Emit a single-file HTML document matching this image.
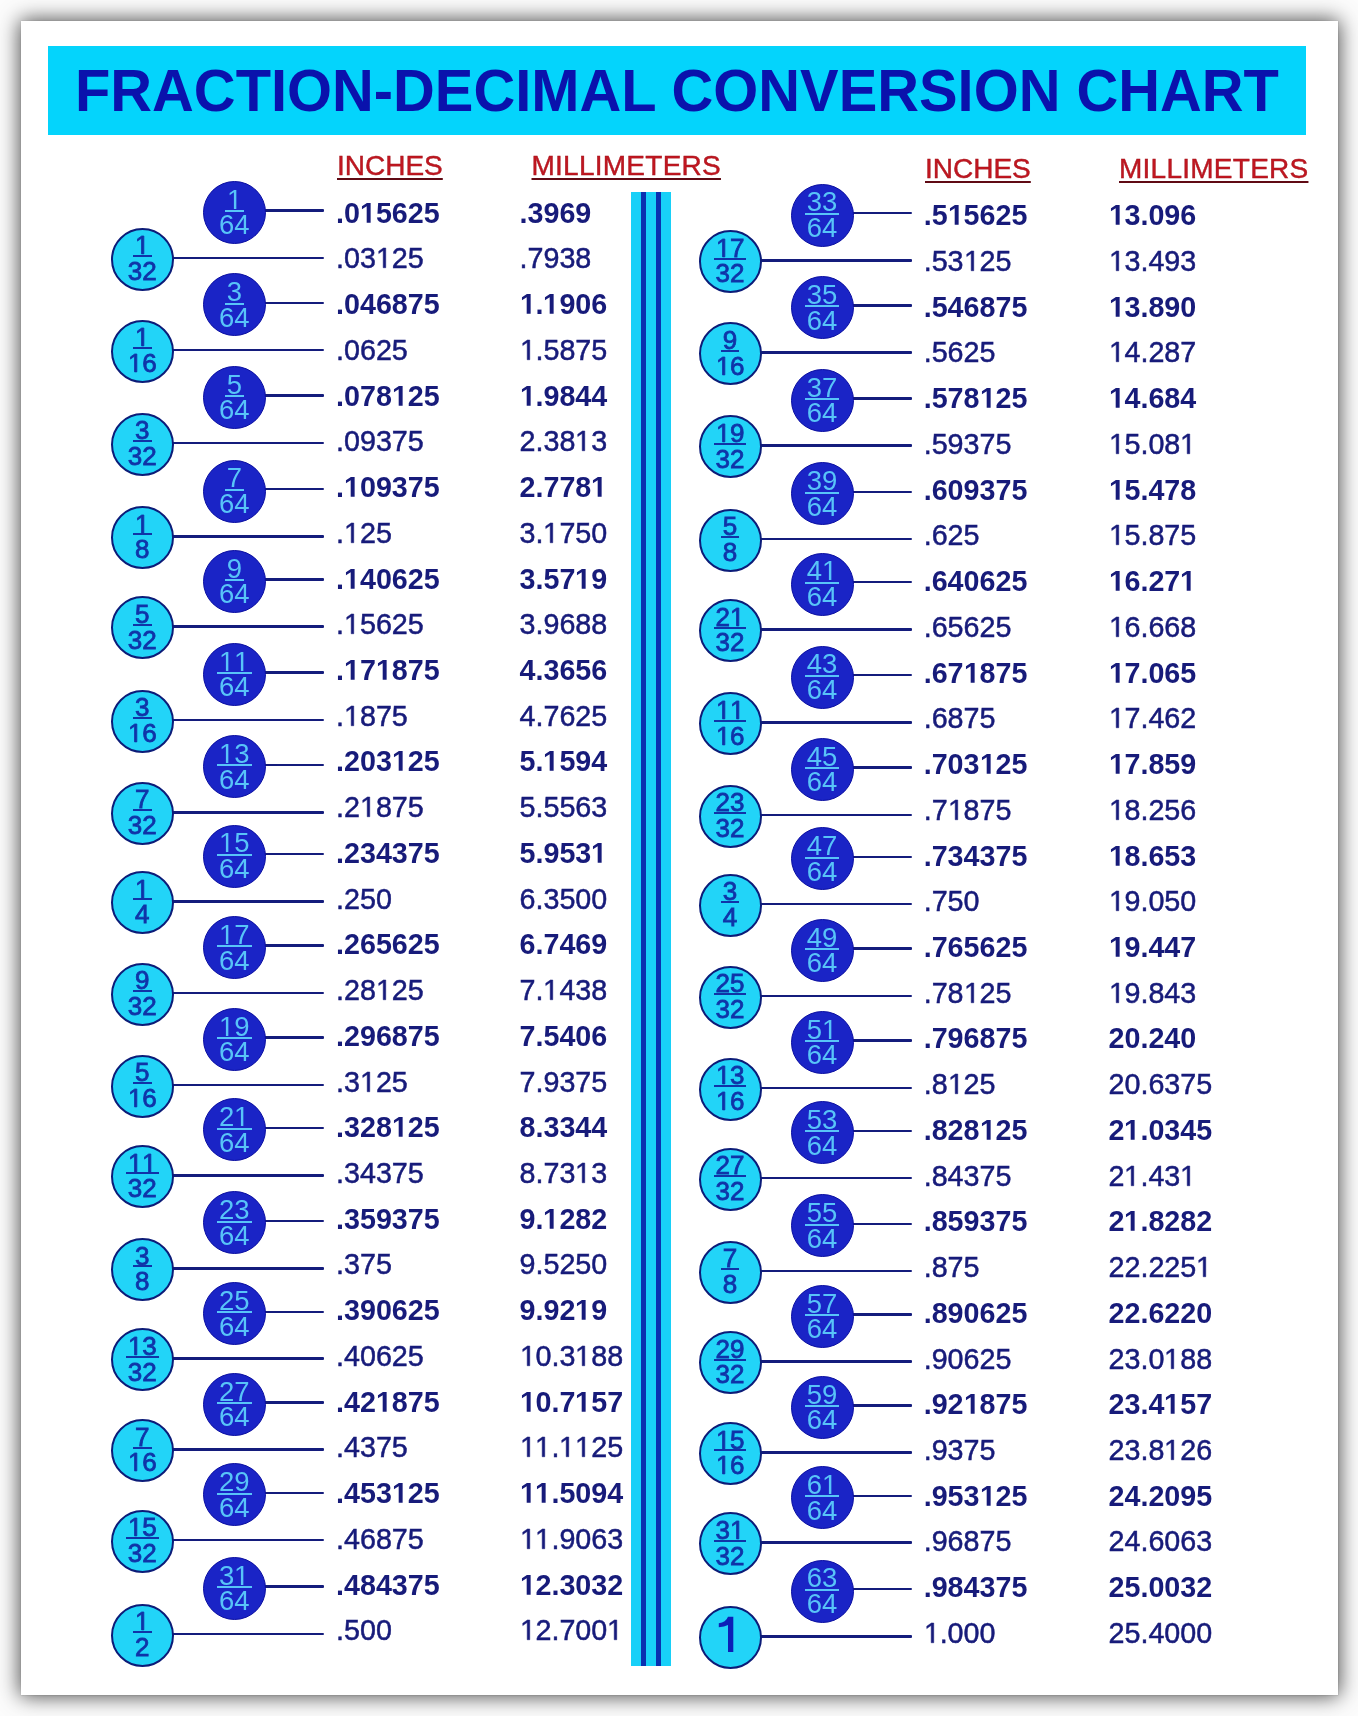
<!DOCTYPE html>
<html><head><meta charset="utf-8"><style>
*{margin:0;padding:0;box-sizing:border-box}
html,body{width:1358px;height:1716px;overflow:hidden;background:#fcfcfc;font-family:"Liberation Sans",sans-serif}
#card{position:absolute;left:20.5px;top:20.5px;width:1317px;height:1674px;background:#fff;box-shadow:0 0 1.5px .5px rgba(0,0,0,.2),0 0 20px 1px rgba(0,0,0,.72)}
#wrap{position:absolute;left:0;top:0;width:1358px;height:1716px;filter:blur(.45px)}
#ban{position:absolute;left:48px;top:46px;width:1258px;height:89px;background:#04d4fc}
#title{position:absolute;left:26.7px;top:15px;transform:scaleX(.964);transform-origin:0 0;white-space:nowrap;font-weight:bold;font-size:60px;color:#0a12ac;line-height:1}
.h{position:absolute;white-space:nowrap;font-size:28px;color:#c01620;line-height:1;text-decoration:underline;text-decoration-color:#600a14;text-decoration-thickness:2px;text-underline-offset:3px;-webkit-text-stroke:.4px #a01018}
.ln{position:absolute;height:2.6px;background:#141c7c;border-radius:1px}
.c{position:absolute;width:63px;height:63px;border-radius:50%}
.cd{background:#1a24c6;border:1.5px solid #0a0ea0}
.cl{background:#22d4f8;border:2.7px solid #0c1c78}
.bar{position:absolute;height:2px}
.fdb{background:#58c4f8}
.flb{background:#1034a8}
.fr{position:absolute;width:60px;text-align:center;line-height:1;white-space:nowrap}
.fd{color:#58c4f8}
.fl{color:#1034a8;-webkit-text-stroke:.8px #1034a8}
.one{position:absolute;width:60px;text-align:center;font-size:48px;line-height:48px;color:#0c20b8;-webkit-text-stroke:1.3px #0c20b8}
.t{position:absolute;white-space:nowrap;font-size:28.7px;line-height:28.7px;color:#171b7a}
.t.b{font-weight:bold}
.t.r{-webkit-text-stroke:0.5px currentColor}
.sv{position:absolute;left:0;top:0}
.o{display:inline-block;width:.5562em;height:.688em;vertical-align:baseline;overflow:visible}
#div{position:absolute;left:630.5px;top:192px;width:40px;height:1474px;background:linear-gradient(to right,#18d0f8 0,#18d0f8 10.5px,#0a30b0 10.5px,#0a30b0 15.5px,#18d0f8 15.5px,#18d0f8 25.2px,#0a30b0 25.2px,#0a30b0 30px,#18d0f8 30px)}
</style></head>
<body>
<div id="card"></div>
<div id="wrap">
<div id="ban"><div id="title">FRACTION-DECIMAL CONVERSION CHART</div></div>
<div class="h" style="left:337px;top:151.9px;letter-spacing:0px">INCHES</div>
<div class="h" style="left:531.5px;top:151.9px;letter-spacing:0.25px">MILLIMETERS</div>
<div class="h" style="left:925px;top:155.3px;letter-spacing:0px">INCHES</div>
<div class="h" style="left:1119px;top:155.3px;letter-spacing:0.25px">MILLIMETERS</div>
<div id="div"></div>
<div class="ln" style="left:234.3px;top:209.1px;width:89.7px"></div>
<div class="c cd" style="left:202.8px;top:180.7px"></div><div class="bar fdb" style="left:224.66px;top:210px;width:19.29px"></div><div class="fr fd" style="left:204.3px;top:186px;font-size:27.5px"><svg class="o" viewBox="0 -1409 1139 1409"><path d="M515 0V-1237L197-1010V-1180L530-1409H696V0Z" fill="currentColor"/></svg></div><div class="fr fd" style="left:204.3px;top:211px;font-size:27.5px">64</div>
<div class="t b" style="left:336px;top:199px">.0<svg class="o" viewBox="0 -1409 1139 1409"><path d="M478 0V-1170L140-959V-1180L493-1409H759V0Z" fill="currentColor"/></svg>5625</div>
<div class="t b" style="left:519.5px;top:199px">.3969</div>
<div class="ln" style="left:142.3px;top:256.5px;width:181.7px"></div>
<div class="c cl" style="left:110.8px;top:227.5px"></div><div class="bar flb" style="left:133.07px;top:254.8px;width:18.46px"></div><div class="fr fl" style="left:112.3px;top:232px;font-size:26px"><svg class="o" viewBox="0 -1409 1139 1409"><path d="M515 0V-1237L197-1010V-1180L530-1409H696V0Z" fill="currentColor" stroke="currentColor" stroke-width="63"/></svg></div><div class="fr fl" style="left:112.3px;top:258px;font-size:26px">32</div>
<div class="t r" style="left:336px;top:244px">.03<svg class="o" viewBox="0 -1409 1139 1409"><path d="M515 0V-1237L197-1010V-1180L530-1409H696V0Z" fill="currentColor" stroke="currentColor" stroke-width="36"/></svg>25</div>
<div class="t r" style="left:519.5px;top:244px">.7938</div>
<div class="ln" style="left:234.3px;top:301.6px;width:89.7px"></div>
<div class="c cd" style="left:202.8px;top:273.2px"></div><div class="bar fdb" style="left:224.66px;top:302.5px;width:19.29px"></div><div class="fr fd" style="left:204.3px;top:278px;font-size:27.5px">3</div><div class="fr fd" style="left:204.3px;top:304px;font-size:27.5px">64</div>
<div class="t b" style="left:336px;top:290px">.046875</div>
<div class="t b" style="left:519.5px;top:290px"><svg class="o" viewBox="0 -1409 1139 1409"><path d="M478 0V-1170L140-959V-1180L493-1409H759V0Z" fill="currentColor"/></svg>.<svg class="o" viewBox="0 -1409 1139 1409"><path d="M478 0V-1170L140-959V-1180L493-1409H759V0Z" fill="currentColor"/></svg>906</div>
<div class="ln" style="left:142.3px;top:348.6px;width:181.7px"></div>
<div class="c cl" style="left:110.8px;top:319.6px"></div><div class="bar flb" style="left:133.07px;top:346.9px;width:18.46px"></div><div class="fr fl" style="left:112.3px;top:324px;font-size:26px"><svg class="o" viewBox="0 -1409 1139 1409"><path d="M515 0V-1237L197-1010V-1180L530-1409H696V0Z" fill="currentColor" stroke="currentColor" stroke-width="63"/></svg></div><div class="fr fl" style="left:112.3px;top:350px;font-size:26px"><svg class="o" viewBox="0 -1409 1139 1409"><path d="M515 0V-1237L197-1010V-1180L530-1409H696V0Z" fill="currentColor" stroke="currentColor" stroke-width="63"/></svg>6</div>
<div class="t r" style="left:336px;top:336px">.0625</div>
<div class="t r" style="left:519.5px;top:336px"><svg class="o" viewBox="0 -1409 1139 1409"><path d="M515 0V-1237L197-1010V-1180L530-1409H696V0Z" fill="currentColor" stroke="currentColor" stroke-width="36"/></svg>.5875</div>
<div class="ln" style="left:234.3px;top:394.3px;width:89.7px"></div>
<div class="c cd" style="left:202.8px;top:365.9px"></div><div class="bar fdb" style="left:224.66px;top:395.2px;width:19.29px"></div><div class="fr fd" style="left:204.3px;top:371px;font-size:27.5px">5</div><div class="fr fd" style="left:204.3px;top:396px;font-size:27.5px">64</div>
<div class="t b" style="left:336px;top:382px">.078<svg class="o" viewBox="0 -1409 1139 1409"><path d="M478 0V-1170L140-959V-1180L493-1409H759V0Z" fill="currentColor"/></svg>25</div>
<div class="t b" style="left:519.5px;top:382px"><svg class="o" viewBox="0 -1409 1139 1409"><path d="M478 0V-1170L140-959V-1180L493-1409H759V0Z" fill="currentColor"/></svg>.9844</div>
<div class="ln" style="left:142.3px;top:441.6px;width:181.7px"></div>
<div class="c cl" style="left:110.8px;top:412.6px"></div><div class="bar flb" style="left:133.07px;top:439.9px;width:18.46px"></div><div class="fr fl" style="left:112.3px;top:417px;font-size:26px">3</div><div class="fr fl" style="left:112.3px;top:443px;font-size:26px">32</div>
<div class="t r" style="left:336px;top:427px">.09375</div>
<div class="t r" style="left:519.5px;top:427px">2.38<svg class="o" viewBox="0 -1409 1139 1409"><path d="M515 0V-1237L197-1010V-1180L530-1409H696V0Z" fill="currentColor" stroke="currentColor" stroke-width="36"/></svg>3</div>
<div class="ln" style="left:234.3px;top:487.9px;width:89.7px"></div>
<div class="c cd" style="left:202.8px;top:459.5px"></div><div class="bar fdb" style="left:224.66px;top:488.8px;width:19.29px"></div><div class="fr fd" style="left:204.3px;top:464px;font-size:27.5px">7</div><div class="fr fd" style="left:204.3px;top:490px;font-size:27.5px">64</div>
<div class="t b" style="left:336px;top:473px">.<svg class="o" viewBox="0 -1409 1139 1409"><path d="M478 0V-1170L140-959V-1180L493-1409H759V0Z" fill="currentColor"/></svg>09375</div>
<div class="t b" style="left:519.5px;top:473px">2.778<svg class="o" viewBox="0 -1409 1139 1409"><path d="M478 0V-1170L140-959V-1180L493-1409H759V0Z" fill="currentColor"/></svg></div>
<div class="ln" style="left:142.3px;top:535.1px;width:181.7px"></div>
<div class="c cl" style="left:110.8px;top:506.1px"></div><div class="bar flb" style="left:133.07px;top:533.4px;width:18.46px"></div><div class="fr fl" style="left:112.3px;top:511px;font-size:26px"><svg class="o" viewBox="0 -1409 1139 1409"><path d="M515 0V-1237L197-1010V-1180L530-1409H696V0Z" fill="currentColor" stroke="currentColor" stroke-width="63"/></svg></div><div class="fr fl" style="left:112.3px;top:536px;font-size:26px">8</div>
<div class="t r" style="left:336px;top:519px">.<svg class="o" viewBox="0 -1409 1139 1409"><path d="M515 0V-1237L197-1010V-1180L530-1409H696V0Z" fill="currentColor" stroke="currentColor" stroke-width="36"/></svg>25</div>
<div class="t r" style="left:519.5px;top:519px">3.<svg class="o" viewBox="0 -1409 1139 1409"><path d="M515 0V-1237L197-1010V-1180L530-1409H696V0Z" fill="currentColor" stroke="currentColor" stroke-width="36"/></svg>750</div>
<div class="ln" style="left:234.3px;top:578.1px;width:89.7px"></div>
<div class="c cd" style="left:202.8px;top:549.7px"></div><div class="bar fdb" style="left:224.66px;top:579px;width:19.29px"></div><div class="fr fd" style="left:204.3px;top:555px;font-size:27.5px">9</div><div class="fr fd" style="left:204.3px;top:580px;font-size:27.5px">64</div>
<div class="t b" style="left:336px;top:565px">.<svg class="o" viewBox="0 -1409 1139 1409"><path d="M478 0V-1170L140-959V-1180L493-1409H759V0Z" fill="currentColor"/></svg>40625</div>
<div class="t b" style="left:519.5px;top:565px">3.57<svg class="o" viewBox="0 -1409 1139 1409"><path d="M478 0V-1170L140-959V-1180L493-1409H759V0Z" fill="currentColor"/></svg>9</div>
<div class="ln" style="left:142.3px;top:625.4px;width:181.7px"></div>
<div class="c cl" style="left:110.8px;top:596.4px"></div><div class="bar flb" style="left:133.07px;top:623.7px;width:18.46px"></div><div class="fr fl" style="left:112.3px;top:601px;font-size:26px">5</div><div class="fr fl" style="left:112.3px;top:627px;font-size:26px">32</div>
<div class="t r" style="left:336px;top:610px">.<svg class="o" viewBox="0 -1409 1139 1409"><path d="M515 0V-1237L197-1010V-1180L530-1409H696V0Z" fill="currentColor" stroke="currentColor" stroke-width="36"/></svg>5625</div>
<div class="t r" style="left:519.5px;top:610px">3.9688</div>
<div class="ln" style="left:234.3px;top:671.1px;width:89.7px"></div>
<div class="c cd" style="left:202.8px;top:642.7px"></div><div class="bar fdb" style="left:217.01px;top:672px;width:34.58px"></div><div class="fr fd" style="left:204.3px;top:648px;font-size:27.5px"><svg class="o" viewBox="0 -1409 1139 1409"><path d="M515 0V-1237L197-1010V-1180L530-1409H696V0Z" fill="currentColor"/></svg><svg class="o" viewBox="0 -1409 1139 1409"><path d="M515 0V-1237L197-1010V-1180L530-1409H696V0Z" fill="currentColor"/></svg></div><div class="fr fd" style="left:204.3px;top:673px;font-size:27.5px">64</div>
<div class="t b" style="left:336px;top:656px">.<svg class="o" viewBox="0 -1409 1139 1409"><path d="M478 0V-1170L140-959V-1180L493-1409H759V0Z" fill="currentColor"/></svg>7<svg class="o" viewBox="0 -1409 1139 1409"><path d="M478 0V-1170L140-959V-1180L493-1409H759V0Z" fill="currentColor"/></svg>875</div>
<div class="t b" style="left:519.5px;top:656px">4.3656</div>
<div class="ln" style="left:142.3px;top:718.6px;width:181.7px"></div>
<div class="c cl" style="left:110.8px;top:689.6px"></div><div class="bar flb" style="left:133.07px;top:716.9px;width:18.46px"></div><div class="fr fl" style="left:112.3px;top:694px;font-size:26px">3</div><div class="fr fl" style="left:112.3px;top:720px;font-size:26px"><svg class="o" viewBox="0 -1409 1139 1409"><path d="M515 0V-1237L197-1010V-1180L530-1409H696V0Z" fill="currentColor" stroke="currentColor" stroke-width="63"/></svg>6</div>
<div class="t r" style="left:336px;top:702px">.<svg class="o" viewBox="0 -1409 1139 1409"><path d="M515 0V-1237L197-1010V-1180L530-1409H696V0Z" fill="currentColor" stroke="currentColor" stroke-width="36"/></svg>875</div>
<div class="t r" style="left:519.5px;top:702px">4.7625</div>
<div class="ln" style="left:234.3px;top:763.5px;width:89.7px"></div>
<div class="c cd" style="left:202.8px;top:735.1px"></div><div class="bar fdb" style="left:217.01px;top:764.4px;width:34.58px"></div><div class="fr fd" style="left:204.3px;top:740px;font-size:27.5px"><svg class="o" viewBox="0 -1409 1139 1409"><path d="M515 0V-1237L197-1010V-1180L530-1409H696V0Z" fill="currentColor"/></svg>3</div><div class="fr fd" style="left:204.3px;top:766px;font-size:27.5px">64</div>
<div class="t b" style="left:336px;top:747px">.203<svg class="o" viewBox="0 -1409 1139 1409"><path d="M478 0V-1170L140-959V-1180L493-1409H759V0Z" fill="currentColor"/></svg>25</div>
<div class="t b" style="left:519.5px;top:747px">5.<svg class="o" viewBox="0 -1409 1139 1409"><path d="M478 0V-1170L140-959V-1180L493-1409H759V0Z" fill="currentColor"/></svg>594</div>
<div class="ln" style="left:142.3px;top:811px;width:181.7px"></div>
<div class="c cl" style="left:110.8px;top:782px"></div><div class="bar flb" style="left:133.07px;top:809.3px;width:18.46px"></div><div class="fr fl" style="left:112.3px;top:786px;font-size:26px">7</div><div class="fr fl" style="left:112.3px;top:812px;font-size:26px">32</div>
<div class="t r" style="left:336px;top:793px">.2<svg class="o" viewBox="0 -1409 1139 1409"><path d="M515 0V-1237L197-1010V-1180L530-1409H696V0Z" fill="currentColor" stroke="currentColor" stroke-width="36"/></svg>875</div>
<div class="t r" style="left:519.5px;top:793px">5.5563</div>
<div class="ln" style="left:234.3px;top:852.9px;width:89.7px"></div>
<div class="c cd" style="left:202.8px;top:824.5px"></div><div class="bar fdb" style="left:217.01px;top:853.8px;width:34.58px"></div><div class="fr fd" style="left:204.3px;top:829px;font-size:27.5px"><svg class="o" viewBox="0 -1409 1139 1409"><path d="M515 0V-1237L197-1010V-1180L530-1409H696V0Z" fill="currentColor"/></svg>5</div><div class="fr fd" style="left:204.3px;top:855px;font-size:27.5px">64</div>
<div class="t b" style="left:336px;top:839px">.234375</div>
<div class="t b" style="left:519.5px;top:839px">5.953<svg class="o" viewBox="0 -1409 1139 1409"><path d="M478 0V-1170L140-959V-1180L493-1409H759V0Z" fill="currentColor"/></svg></div>
<div class="ln" style="left:142.3px;top:900.1px;width:181.7px"></div>
<div class="c cl" style="left:110.8px;top:871.1px"></div><div class="bar flb" style="left:133.07px;top:898.4px;width:18.46px"></div><div class="fr fl" style="left:112.3px;top:876px;font-size:26px"><svg class="o" viewBox="0 -1409 1139 1409"><path d="M515 0V-1237L197-1010V-1180L530-1409H696V0Z" fill="currentColor" stroke="currentColor" stroke-width="63"/></svg></div><div class="fr fl" style="left:112.3px;top:901px;font-size:26px">4</div>
<div class="t r" style="left:336px;top:885px">.250</div>
<div class="t r" style="left:519.5px;top:885px">6.3500</div>
<div class="ln" style="left:234.3px;top:944.4px;width:89.7px"></div>
<div class="c cd" style="left:202.8px;top:916px"></div><div class="bar fdb" style="left:217.01px;top:945.3px;width:34.58px"></div><div class="fr fd" style="left:204.3px;top:921px;font-size:27.5px"><svg class="o" viewBox="0 -1409 1139 1409"><path d="M515 0V-1237L197-1010V-1180L530-1409H696V0Z" fill="currentColor"/></svg>7</div><div class="fr fd" style="left:204.3px;top:947px;font-size:27.5px">64</div>
<div class="t b" style="left:336px;top:930px">.265625</div>
<div class="t b" style="left:519.5px;top:930px">6.7469</div>
<div class="ln" style="left:142.3px;top:991.7px;width:181.7px"></div>
<div class="c cl" style="left:110.8px;top:962.7px"></div><div class="bar flb" style="left:133.07px;top:990px;width:18.46px"></div><div class="fr fl" style="left:112.3px;top:967px;font-size:26px">9</div><div class="fr fl" style="left:112.3px;top:993px;font-size:26px">32</div>
<div class="t r" style="left:336px;top:976px">.28<svg class="o" viewBox="0 -1409 1139 1409"><path d="M515 0V-1237L197-1010V-1180L530-1409H696V0Z" fill="currentColor" stroke="currentColor" stroke-width="36"/></svg>25</div>
<div class="t r" style="left:519.5px;top:976px">7.<svg class="o" viewBox="0 -1409 1139 1409"><path d="M515 0V-1237L197-1010V-1180L530-1409H696V0Z" fill="currentColor" stroke="currentColor" stroke-width="36"/></svg>438</div>
<div class="ln" style="left:234.3px;top:1036.3px;width:89.7px"></div>
<div class="c cd" style="left:202.8px;top:1007.9px"></div><div class="bar fdb" style="left:217.01px;top:1037.2px;width:34.58px"></div><div class="fr fd" style="left:204.3px;top:1013px;font-size:27.5px"><svg class="o" viewBox="0 -1409 1139 1409"><path d="M515 0V-1237L197-1010V-1180L530-1409H696V0Z" fill="currentColor"/></svg>9</div><div class="fr fd" style="left:204.3px;top:1038px;font-size:27.5px">64</div>
<div class="t b" style="left:336px;top:1022px">.296875</div>
<div class="t b" style="left:519.5px;top:1022px">7.5406</div>
<div class="ln" style="left:142.3px;top:1083.7px;width:181.7px"></div>
<div class="c cl" style="left:110.8px;top:1054.7px"></div><div class="bar flb" style="left:133.07px;top:1082px;width:18.46px"></div><div class="fr fl" style="left:112.3px;top:1059px;font-size:26px">5</div><div class="fr fl" style="left:112.3px;top:1085px;font-size:26px"><svg class="o" viewBox="0 -1409 1139 1409"><path d="M515 0V-1237L197-1010V-1180L530-1409H696V0Z" fill="currentColor" stroke="currentColor" stroke-width="63"/></svg>6</div>
<div class="t r" style="left:336px;top:1068px">.3<svg class="o" viewBox="0 -1409 1139 1409"><path d="M515 0V-1237L197-1010V-1180L530-1409H696V0Z" fill="currentColor" stroke="currentColor" stroke-width="36"/></svg>25</div>
<div class="t r" style="left:519.5px;top:1068px">7.9375</div>
<div class="ln" style="left:234.3px;top:1126.7px;width:89.7px"></div>
<div class="c cd" style="left:202.8px;top:1098.3px"></div><div class="bar fdb" style="left:217.01px;top:1127.6px;width:34.58px"></div><div class="fr fd" style="left:204.3px;top:1103px;font-size:27.5px">2<svg class="o" viewBox="0 -1409 1139 1409"><path d="M515 0V-1237L197-1010V-1180L530-1409H696V0Z" fill="currentColor"/></svg></div><div class="fr fd" style="left:204.3px;top:1129px;font-size:27.5px">64</div>
<div class="t b" style="left:336px;top:1113px">.328<svg class="o" viewBox="0 -1409 1139 1409"><path d="M478 0V-1170L140-959V-1180L493-1409H759V0Z" fill="currentColor"/></svg>25</div>
<div class="t b" style="left:519.5px;top:1113px">8.3344</div>
<div class="ln" style="left:142.3px;top:1174.1px;width:181.7px"></div>
<div class="c cl" style="left:110.8px;top:1145.1px"></div><div class="bar flb" style="left:125.84px;top:1172.4px;width:32.91px"></div><div class="fr fl" style="left:112.3px;top:1150px;font-size:26px"><svg class="o" viewBox="0 -1409 1139 1409"><path d="M515 0V-1237L197-1010V-1180L530-1409H696V0Z" fill="currentColor" stroke="currentColor" stroke-width="63"/></svg><svg class="o" viewBox="0 -1409 1139 1409"><path d="M515 0V-1237L197-1010V-1180L530-1409H696V0Z" fill="currentColor" stroke="currentColor" stroke-width="63"/></svg></div><div class="fr fl" style="left:112.3px;top:1175px;font-size:26px">32</div>
<div class="t r" style="left:336px;top:1159px">.34375</div>
<div class="t r" style="left:519.5px;top:1159px">8.73<svg class="o" viewBox="0 -1409 1139 1409"><path d="M515 0V-1237L197-1010V-1180L530-1409H696V0Z" fill="currentColor" stroke="currentColor" stroke-width="36"/></svg>3</div>
<div class="ln" style="left:234.3px;top:1219.8px;width:89.7px"></div>
<div class="c cd" style="left:202.8px;top:1191.4px"></div><div class="bar fdb" style="left:217.01px;top:1220.7px;width:34.58px"></div><div class="fr fd" style="left:204.3px;top:1196px;font-size:27.5px">23</div><div class="fr fd" style="left:204.3px;top:1222px;font-size:27.5px">64</div>
<div class="t b" style="left:336px;top:1205px">.359375</div>
<div class="t b" style="left:519.5px;top:1205px">9.<svg class="o" viewBox="0 -1409 1139 1409"><path d="M478 0V-1170L140-959V-1180L493-1409H759V0Z" fill="currentColor"/></svg>282</div>
<div class="ln" style="left:142.3px;top:1267.1px;width:181.7px"></div>
<div class="c cl" style="left:110.8px;top:1238.1px"></div><div class="bar flb" style="left:133.07px;top:1265.4px;width:18.46px"></div><div class="fr fl" style="left:112.3px;top:1243px;font-size:26px">3</div><div class="fr fl" style="left:112.3px;top:1268px;font-size:26px">8</div>
<div class="t r" style="left:336px;top:1250px">.375</div>
<div class="t r" style="left:519.5px;top:1250px">9.5250</div>
<div class="ln" style="left:234.3px;top:1310.5px;width:89.7px"></div>
<div class="c cd" style="left:202.8px;top:1282.1px"></div><div class="bar fdb" style="left:217.01px;top:1311.4px;width:34.58px"></div><div class="fr fd" style="left:204.3px;top:1287px;font-size:27.5px">25</div><div class="fr fd" style="left:204.3px;top:1313px;font-size:27.5px">64</div>
<div class="t b" style="left:336px;top:1296px">.390625</div>
<div class="t b" style="left:519.5px;top:1296px">9.92<svg class="o" viewBox="0 -1409 1139 1409"><path d="M478 0V-1170L140-959V-1180L493-1409H759V0Z" fill="currentColor"/></svg>9</div>
<div class="ln" style="left:142.3px;top:1357.4px;width:181.7px"></div>
<div class="c cl" style="left:110.8px;top:1328.4px"></div><div class="bar flb" style="left:125.84px;top:1355.7px;width:32.91px"></div><div class="fr fl" style="left:112.3px;top:1333px;font-size:26px"><svg class="o" viewBox="0 -1409 1139 1409"><path d="M515 0V-1237L197-1010V-1180L530-1409H696V0Z" fill="currentColor" stroke="currentColor" stroke-width="63"/></svg>3</div><div class="fr fl" style="left:112.3px;top:1359px;font-size:26px">32</div>
<div class="t r" style="left:336px;top:1342px">.40625</div>
<div class="t r" style="left:519.5px;top:1342px"><svg class="o" viewBox="0 -1409 1139 1409"><path d="M515 0V-1237L197-1010V-1180L530-1409H696V0Z" fill="currentColor" stroke="currentColor" stroke-width="36"/></svg>0.3<svg class="o" viewBox="0 -1409 1139 1409"><path d="M515 0V-1237L197-1010V-1180L530-1409H696V0Z" fill="currentColor" stroke="currentColor" stroke-width="36"/></svg>88</div>
<div class="ln" style="left:234.3px;top:1401.3px;width:89.7px"></div>
<div class="c cd" style="left:202.8px;top:1372.9px"></div><div class="bar fdb" style="left:217.01px;top:1402.2px;width:34.58px"></div><div class="fr fd" style="left:204.3px;top:1378px;font-size:27.5px">27</div><div class="fr fd" style="left:204.3px;top:1403px;font-size:27.5px">64</div>
<div class="t b" style="left:336px;top:1388px">.42<svg class="o" viewBox="0 -1409 1139 1409"><path d="M478 0V-1170L140-959V-1180L493-1409H759V0Z" fill="currentColor"/></svg>875</div>
<div class="t b" style="left:519.5px;top:1388px"><svg class="o" viewBox="0 -1409 1139 1409"><path d="M478 0V-1170L140-959V-1180L493-1409H759V0Z" fill="currentColor"/></svg>0.7<svg class="o" viewBox="0 -1409 1139 1409"><path d="M478 0V-1170L140-959V-1180L493-1409H759V0Z" fill="currentColor"/></svg>57</div>
<div class="ln" style="left:142.3px;top:1448.3px;width:181.7px"></div>
<div class="c cl" style="left:110.8px;top:1419.3px"></div><div class="bar flb" style="left:133.07px;top:1446.6px;width:18.46px"></div><div class="fr fl" style="left:112.3px;top:1424px;font-size:26px">7</div><div class="fr fl" style="left:112.3px;top:1449px;font-size:26px"><svg class="o" viewBox="0 -1409 1139 1409"><path d="M515 0V-1237L197-1010V-1180L530-1409H696V0Z" fill="currentColor" stroke="currentColor" stroke-width="63"/></svg>6</div>
<div class="t r" style="left:336px;top:1433px">.4375</div>
<div class="t r" style="left:519.5px;top:1433px"><svg class="o" viewBox="0 -1409 1139 1409"><path d="M515 0V-1237L197-1010V-1180L530-1409H696V0Z" fill="currentColor" stroke="currentColor" stroke-width="36"/></svg><svg class="o" viewBox="0 -1409 1139 1409"><path d="M515 0V-1237L197-1010V-1180L530-1409H696V0Z" fill="currentColor" stroke="currentColor" stroke-width="36"/></svg>.<svg class="o" viewBox="0 -1409 1139 1409"><path d="M515 0V-1237L197-1010V-1180L530-1409H696V0Z" fill="currentColor" stroke="currentColor" stroke-width="36"/></svg><svg class="o" viewBox="0 -1409 1139 1409"><path d="M515 0V-1237L197-1010V-1180L530-1409H696V0Z" fill="currentColor" stroke="currentColor" stroke-width="36"/></svg>25</div>
<div class="ln" style="left:234.3px;top:1491.7px;width:89.7px"></div>
<div class="c cd" style="left:202.8px;top:1463.3px"></div><div class="bar fdb" style="left:217.01px;top:1492.6px;width:34.58px"></div><div class="fr fd" style="left:204.3px;top:1468px;font-size:27.5px">29</div><div class="fr fd" style="left:204.3px;top:1494px;font-size:27.5px">64</div>
<div class="t b" style="left:336px;top:1479px">.453<svg class="o" viewBox="0 -1409 1139 1409"><path d="M478 0V-1170L140-959V-1180L493-1409H759V0Z" fill="currentColor"/></svg>25</div>
<div class="t b" style="left:519.5px;top:1479px"><svg class="o" viewBox="0 -1409 1139 1409"><path d="M478 0V-1170L140-959V-1180L493-1409H759V0Z" fill="currentColor"/></svg><svg class="o" viewBox="0 -1409 1139 1409"><path d="M478 0V-1170L140-959V-1180L493-1409H759V0Z" fill="currentColor"/></svg>.5094</div>
<div class="ln" style="left:142.3px;top:1538.6px;width:181.7px"></div>
<div class="c cl" style="left:110.8px;top:1509.6px"></div><div class="bar flb" style="left:125.84px;top:1536.9px;width:32.91px"></div><div class="fr fl" style="left:112.3px;top:1514px;font-size:26px"><svg class="o" viewBox="0 -1409 1139 1409"><path d="M515 0V-1237L197-1010V-1180L530-1409H696V0Z" fill="currentColor" stroke="currentColor" stroke-width="63"/></svg>5</div><div class="fr fl" style="left:112.3px;top:1540px;font-size:26px">32</div>
<div class="t r" style="left:336px;top:1525px">.46875</div>
<div class="t r" style="left:519.5px;top:1525px"><svg class="o" viewBox="0 -1409 1139 1409"><path d="M515 0V-1237L197-1010V-1180L530-1409H696V0Z" fill="currentColor" stroke="currentColor" stroke-width="36"/></svg><svg class="o" viewBox="0 -1409 1139 1409"><path d="M515 0V-1237L197-1010V-1180L530-1409H696V0Z" fill="currentColor" stroke="currentColor" stroke-width="36"/></svg>.9063</div>
<div class="ln" style="left:234.3px;top:1585.1px;width:89.7px"></div>
<div class="c cd" style="left:202.8px;top:1556.7px"></div><div class="bar fdb" style="left:217.01px;top:1586px;width:34.58px"></div><div class="fr fd" style="left:204.3px;top:1562px;font-size:27.5px">3<svg class="o" viewBox="0 -1409 1139 1409"><path d="M515 0V-1237L197-1010V-1180L530-1409H696V0Z" fill="currentColor"/></svg></div><div class="fr fd" style="left:204.3px;top:1587px;font-size:27.5px">64</div>
<div class="t b" style="left:336px;top:1571px">.484375</div>
<div class="t b" style="left:519.5px;top:1571px"><svg class="o" viewBox="0 -1409 1139 1409"><path d="M478 0V-1170L140-959V-1180L493-1409H759V0Z" fill="currentColor"/></svg>2.3032</div>
<div class="ln" style="left:142.3px;top:1632.5px;width:181.7px"></div>
<div class="c cl" style="left:110.8px;top:1603.5px"></div><div class="bar flb" style="left:133.07px;top:1630.8px;width:18.46px"></div><div class="fr fl" style="left:112.3px;top:1608px;font-size:26px"><svg class="o" viewBox="0 -1409 1139 1409"><path d="M515 0V-1237L197-1010V-1180L530-1409H696V0Z" fill="currentColor" stroke="currentColor" stroke-width="63"/></svg></div><div class="fr fl" style="left:112.3px;top:1634px;font-size:26px">2</div>
<div class="t r" style="left:336px;top:1616px">.500</div>
<div class="t r" style="left:519.5px;top:1616px"><svg class="o" viewBox="0 -1409 1139 1409"><path d="M515 0V-1237L197-1010V-1180L530-1409H696V0Z" fill="currentColor" stroke="currentColor" stroke-width="36"/></svg>2.700<svg class="o" viewBox="0 -1409 1139 1409"><path d="M515 0V-1237L197-1010V-1180L530-1409H696V0Z" fill="currentColor" stroke="currentColor" stroke-width="36"/></svg></div>
<div class="ln" style="left:822px;top:211.9px;width:89.7px"></div>
<div class="c cd" style="left:790.5px;top:183.5px"></div><div class="bar fdb" style="left:804.71px;top:212.8px;width:34.58px"></div><div class="fr fd" style="left:792px;top:188px;font-size:27.5px">33</div><div class="fr fd" style="left:792px;top:214px;font-size:27.5px">64</div>
<div class="t b" style="left:923.7px;top:201px">.5<svg class="o" viewBox="0 -1409 1139 1409"><path d="M478 0V-1170L140-959V-1180L493-1409H759V0Z" fill="currentColor"/></svg>5625</div>
<div class="t b" style="left:1108.5px;top:201px"><svg class="o" viewBox="0 -1409 1139 1409"><path d="M478 0V-1170L140-959V-1180L493-1409H759V0Z" fill="currentColor"/></svg>3.096</div>
<div class="ln" style="left:730px;top:259.3px;width:181.7px"></div>
<div class="c cl" style="left:698.5px;top:230.3px"></div><div class="bar flb" style="left:713.54px;top:257.6px;width:32.91px"></div><div class="fr fl" style="left:700px;top:235px;font-size:26px"><svg class="o" viewBox="0 -1409 1139 1409"><path d="M515 0V-1237L197-1010V-1180L530-1409H696V0Z" fill="currentColor" stroke="currentColor" stroke-width="63"/></svg>7</div><div class="fr fl" style="left:700px;top:260px;font-size:26px">32</div>
<div class="t r" style="left:923.7px;top:247px">.53<svg class="o" viewBox="0 -1409 1139 1409"><path d="M515 0V-1237L197-1010V-1180L530-1409H696V0Z" fill="currentColor" stroke="currentColor" stroke-width="36"/></svg>25</div>
<div class="t r" style="left:1108.5px;top:247px"><svg class="o" viewBox="0 -1409 1139 1409"><path d="M515 0V-1237L197-1010V-1180L530-1409H696V0Z" fill="currentColor" stroke="currentColor" stroke-width="36"/></svg>3.493</div>
<div class="ln" style="left:822px;top:304.4px;width:89.7px"></div>
<div class="c cd" style="left:790.5px;top:276px"></div><div class="bar fdb" style="left:804.71px;top:305.3px;width:34.58px"></div><div class="fr fd" style="left:792px;top:281px;font-size:27.5px">35</div><div class="fr fd" style="left:792px;top:307px;font-size:27.5px">64</div>
<div class="t b" style="left:923.7px;top:293px">.546875</div>
<div class="t b" style="left:1108.5px;top:293px"><svg class="o" viewBox="0 -1409 1139 1409"><path d="M478 0V-1170L140-959V-1180L493-1409H759V0Z" fill="currentColor"/></svg>3.890</div>
<div class="ln" style="left:730px;top:351.4px;width:181.7px"></div>
<div class="c cl" style="left:698.5px;top:322.4px"></div><div class="bar flb" style="left:720.77px;top:349.7px;width:18.46px"></div><div class="fr fl" style="left:700px;top:327px;font-size:26px">9</div><div class="fr fl" style="left:700px;top:353px;font-size:26px"><svg class="o" viewBox="0 -1409 1139 1409"><path d="M515 0V-1237L197-1010V-1180L530-1409H696V0Z" fill="currentColor" stroke="currentColor" stroke-width="63"/></svg>6</div>
<div class="t r" style="left:923.7px;top:338px">.5625</div>
<div class="t r" style="left:1108.5px;top:338px"><svg class="o" viewBox="0 -1409 1139 1409"><path d="M515 0V-1237L197-1010V-1180L530-1409H696V0Z" fill="currentColor" stroke="currentColor" stroke-width="36"/></svg>4.287</div>
<div class="ln" style="left:822px;top:397.1px;width:89.7px"></div>
<div class="c cd" style="left:790.5px;top:368.7px"></div><div class="bar fdb" style="left:804.71px;top:398px;width:34.58px"></div><div class="fr fd" style="left:792px;top:374px;font-size:27.5px">37</div><div class="fr fd" style="left:792px;top:399px;font-size:27.5px">64</div>
<div class="t b" style="left:923.7px;top:384px">.578<svg class="o" viewBox="0 -1409 1139 1409"><path d="M478 0V-1170L140-959V-1180L493-1409H759V0Z" fill="currentColor"/></svg>25</div>
<div class="t b" style="left:1108.5px;top:384px"><svg class="o" viewBox="0 -1409 1139 1409"><path d="M478 0V-1170L140-959V-1180L493-1409H759V0Z" fill="currentColor"/></svg>4.684</div>
<div class="ln" style="left:730px;top:444.4px;width:181.7px"></div>
<div class="c cl" style="left:698.5px;top:415.4px"></div><div class="bar flb" style="left:713.54px;top:442.7px;width:32.91px"></div><div class="fr fl" style="left:700px;top:420px;font-size:26px"><svg class="o" viewBox="0 -1409 1139 1409"><path d="M515 0V-1237L197-1010V-1180L530-1409H696V0Z" fill="currentColor" stroke="currentColor" stroke-width="63"/></svg>9</div><div class="fr fl" style="left:700px;top:446px;font-size:26px">32</div>
<div class="t r" style="left:923.7px;top:430px">.59375</div>
<div class="t r" style="left:1108.5px;top:430px"><svg class="o" viewBox="0 -1409 1139 1409"><path d="M515 0V-1237L197-1010V-1180L530-1409H696V0Z" fill="currentColor" stroke="currentColor" stroke-width="36"/></svg>5.08<svg class="o" viewBox="0 -1409 1139 1409"><path d="M515 0V-1237L197-1010V-1180L530-1409H696V0Z" fill="currentColor" stroke="currentColor" stroke-width="36"/></svg></div>
<div class="ln" style="left:822px;top:490.7px;width:89.7px"></div>
<div class="c cd" style="left:790.5px;top:462.3px"></div><div class="bar fdb" style="left:804.71px;top:491.6px;width:34.58px"></div><div class="fr fd" style="left:792px;top:467px;font-size:27.5px">39</div><div class="fr fd" style="left:792px;top:493px;font-size:27.5px">64</div>
<div class="t b" style="left:923.7px;top:476px">.609375</div>
<div class="t b" style="left:1108.5px;top:476px"><svg class="o" viewBox="0 -1409 1139 1409"><path d="M478 0V-1170L140-959V-1180L493-1409H759V0Z" fill="currentColor"/></svg>5.478</div>
<div class="ln" style="left:730px;top:537.9px;width:181.7px"></div>
<div class="c cl" style="left:698.5px;top:508.9px"></div><div class="bar flb" style="left:720.77px;top:536.2px;width:18.46px"></div><div class="fr fl" style="left:700px;top:513px;font-size:26px">5</div><div class="fr fl" style="left:700px;top:539px;font-size:26px">8</div>
<div class="t r" style="left:923.7px;top:521px">.625</div>
<div class="t r" style="left:1108.5px;top:521px"><svg class="o" viewBox="0 -1409 1139 1409"><path d="M515 0V-1237L197-1010V-1180L530-1409H696V0Z" fill="currentColor" stroke="currentColor" stroke-width="36"/></svg>5.875</div>
<div class="ln" style="left:822px;top:580.9px;width:89.7px"></div>
<div class="c cd" style="left:790.5px;top:552.5px"></div><div class="bar fdb" style="left:804.71px;top:581.8px;width:34.58px"></div><div class="fr fd" style="left:792px;top:557px;font-size:27.5px">4<svg class="o" viewBox="0 -1409 1139 1409"><path d="M515 0V-1237L197-1010V-1180L530-1409H696V0Z" fill="currentColor"/></svg></div><div class="fr fd" style="left:792px;top:583px;font-size:27.5px">64</div>
<div class="t b" style="left:923.7px;top:567px">.640625</div>
<div class="t b" style="left:1108.5px;top:567px"><svg class="o" viewBox="0 -1409 1139 1409"><path d="M478 0V-1170L140-959V-1180L493-1409H759V0Z" fill="currentColor"/></svg>6.27<svg class="o" viewBox="0 -1409 1139 1409"><path d="M478 0V-1170L140-959V-1180L493-1409H759V0Z" fill="currentColor"/></svg></div>
<div class="ln" style="left:730px;top:628.2px;width:181.7px"></div>
<div class="c cl" style="left:698.5px;top:599.2px"></div><div class="bar flb" style="left:713.54px;top:626.5px;width:32.91px"></div><div class="fr fl" style="left:700px;top:604px;font-size:26px">2<svg class="o" viewBox="0 -1409 1139 1409"><path d="M515 0V-1237L197-1010V-1180L530-1409H696V0Z" fill="currentColor" stroke="currentColor" stroke-width="63"/></svg></div><div class="fr fl" style="left:700px;top:629px;font-size:26px">32</div>
<div class="t r" style="left:923.7px;top:613px">.65625</div>
<div class="t r" style="left:1108.5px;top:613px"><svg class="o" viewBox="0 -1409 1139 1409"><path d="M515 0V-1237L197-1010V-1180L530-1409H696V0Z" fill="currentColor" stroke="currentColor" stroke-width="36"/></svg>6.668</div>
<div class="ln" style="left:822px;top:673.9px;width:89.7px"></div>
<div class="c cd" style="left:790.5px;top:645.5px"></div><div class="bar fdb" style="left:804.71px;top:674.8px;width:34.58px"></div><div class="fr fd" style="left:792px;top:650px;font-size:27.5px">43</div><div class="fr fd" style="left:792px;top:676px;font-size:27.5px">64</div>
<div class="t b" style="left:923.7px;top:659px">.67<svg class="o" viewBox="0 -1409 1139 1409"><path d="M478 0V-1170L140-959V-1180L493-1409H759V0Z" fill="currentColor"/></svg>875</div>
<div class="t b" style="left:1108.5px;top:659px"><svg class="o" viewBox="0 -1409 1139 1409"><path d="M478 0V-1170L140-959V-1180L493-1409H759V0Z" fill="currentColor"/></svg>7.065</div>
<div class="ln" style="left:730px;top:721.4px;width:181.7px"></div>
<div class="c cl" style="left:698.5px;top:692.4px"></div><div class="bar flb" style="left:713.54px;top:719.7px;width:32.91px"></div><div class="fr fl" style="left:700px;top:697px;font-size:26px"><svg class="o" viewBox="0 -1409 1139 1409"><path d="M515 0V-1237L197-1010V-1180L530-1409H696V0Z" fill="currentColor" stroke="currentColor" stroke-width="63"/></svg><svg class="o" viewBox="0 -1409 1139 1409"><path d="M515 0V-1237L197-1010V-1180L530-1409H696V0Z" fill="currentColor" stroke="currentColor" stroke-width="63"/></svg></div><div class="fr fl" style="left:700px;top:723px;font-size:26px"><svg class="o" viewBox="0 -1409 1139 1409"><path d="M515 0V-1237L197-1010V-1180L530-1409H696V0Z" fill="currentColor" stroke="currentColor" stroke-width="63"/></svg>6</div>
<div class="t r" style="left:923.7px;top:704px">.6875</div>
<div class="t r" style="left:1108.5px;top:704px"><svg class="o" viewBox="0 -1409 1139 1409"><path d="M515 0V-1237L197-1010V-1180L530-1409H696V0Z" fill="currentColor" stroke="currentColor" stroke-width="36"/></svg>7.462</div>
<div class="ln" style="left:822px;top:766.3px;width:89.7px"></div>
<div class="c cd" style="left:790.5px;top:737.9px"></div><div class="bar fdb" style="left:804.71px;top:767.2px;width:34.58px"></div><div class="fr fd" style="left:792px;top:743px;font-size:27.5px">45</div><div class="fr fd" style="left:792px;top:768px;font-size:27.5px">64</div>
<div class="t b" style="left:923.7px;top:750px">.703<svg class="o" viewBox="0 -1409 1139 1409"><path d="M478 0V-1170L140-959V-1180L493-1409H759V0Z" fill="currentColor"/></svg>25</div>
<div class="t b" style="left:1108.5px;top:750px"><svg class="o" viewBox="0 -1409 1139 1409"><path d="M478 0V-1170L140-959V-1180L493-1409H759V0Z" fill="currentColor"/></svg>7.859</div>
<div class="ln" style="left:730px;top:813.8px;width:181.7px"></div>
<div class="c cl" style="left:698.5px;top:784.8px"></div><div class="bar flb" style="left:713.54px;top:812.1px;width:32.91px"></div><div class="fr fl" style="left:700px;top:789px;font-size:26px">23</div><div class="fr fl" style="left:700px;top:815px;font-size:26px">32</div>
<div class="t r" style="left:923.7px;top:796px">.7<svg class="o" viewBox="0 -1409 1139 1409"><path d="M515 0V-1237L197-1010V-1180L530-1409H696V0Z" fill="currentColor" stroke="currentColor" stroke-width="36"/></svg>875</div>
<div class="t r" style="left:1108.5px;top:796px"><svg class="o" viewBox="0 -1409 1139 1409"><path d="M515 0V-1237L197-1010V-1180L530-1409H696V0Z" fill="currentColor" stroke="currentColor" stroke-width="36"/></svg>8.256</div>
<div class="ln" style="left:822px;top:855.7px;width:89.7px"></div>
<div class="c cd" style="left:790.5px;top:827.3px"></div><div class="bar fdb" style="left:804.71px;top:856.6px;width:34.58px"></div><div class="fr fd" style="left:792px;top:832px;font-size:27.5px">47</div><div class="fr fd" style="left:792px;top:858px;font-size:27.5px">64</div>
<div class="t b" style="left:923.7px;top:842px">.734375</div>
<div class="t b" style="left:1108.5px;top:842px"><svg class="o" viewBox="0 -1409 1139 1409"><path d="M478 0V-1170L140-959V-1180L493-1409H759V0Z" fill="currentColor"/></svg>8.653</div>
<div class="ln" style="left:730px;top:902.9px;width:181.7px"></div>
<div class="c cl" style="left:698.5px;top:873.9px"></div><div class="bar flb" style="left:720.77px;top:901.2px;width:18.46px"></div><div class="fr fl" style="left:700px;top:878px;font-size:26px">3</div><div class="fr fl" style="left:700px;top:904px;font-size:26px">4</div>
<div class="t r" style="left:923.7px;top:887px">.750</div>
<div class="t r" style="left:1108.5px;top:887px"><svg class="o" viewBox="0 -1409 1139 1409"><path d="M515 0V-1237L197-1010V-1180L530-1409H696V0Z" fill="currentColor" stroke="currentColor" stroke-width="36"/></svg>9.050</div>
<div class="ln" style="left:822px;top:947.2px;width:89.7px"></div>
<div class="c cd" style="left:790.5px;top:918.8px"></div><div class="bar fdb" style="left:804.71px;top:948.1px;width:34.58px"></div><div class="fr fd" style="left:792px;top:924px;font-size:27.5px">49</div><div class="fr fd" style="left:792px;top:949px;font-size:27.5px">64</div>
<div class="t b" style="left:923.7px;top:933px">.765625</div>
<div class="t b" style="left:1108.5px;top:933px"><svg class="o" viewBox="0 -1409 1139 1409"><path d="M478 0V-1170L140-959V-1180L493-1409H759V0Z" fill="currentColor"/></svg>9.447</div>
<div class="ln" style="left:730px;top:994.5px;width:181.7px"></div>
<div class="c cl" style="left:698.5px;top:965.5px"></div><div class="bar flb" style="left:713.54px;top:992.8px;width:32.91px"></div><div class="fr fl" style="left:700px;top:970px;font-size:26px">25</div><div class="fr fl" style="left:700px;top:996px;font-size:26px">32</div>
<div class="t r" style="left:923.7px;top:979px">.78<svg class="o" viewBox="0 -1409 1139 1409"><path d="M515 0V-1237L197-1010V-1180L530-1409H696V0Z" fill="currentColor" stroke="currentColor" stroke-width="36"/></svg>25</div>
<div class="t r" style="left:1108.5px;top:979px"><svg class="o" viewBox="0 -1409 1139 1409"><path d="M515 0V-1237L197-1010V-1180L530-1409H696V0Z" fill="currentColor" stroke="currentColor" stroke-width="36"/></svg>9.843</div>
<div class="ln" style="left:822px;top:1039.1px;width:89.7px"></div>
<div class="c cd" style="left:790.5px;top:1010.7px"></div><div class="bar fdb" style="left:804.71px;top:1040px;width:34.58px"></div><div class="fr fd" style="left:792px;top:1016px;font-size:27.5px">5<svg class="o" viewBox="0 -1409 1139 1409"><path d="M515 0V-1237L197-1010V-1180L530-1409H696V0Z" fill="currentColor"/></svg></div><div class="fr fd" style="left:792px;top:1041px;font-size:27.5px">64</div>
<div class="t b" style="left:923.7px;top:1024px">.796875</div>
<div class="t b" style="left:1108.5px;top:1024px">20.240</div>
<div class="ln" style="left:730px;top:1086.5px;width:181.7px"></div>
<div class="c cl" style="left:698.5px;top:1057.5px"></div><div class="bar flb" style="left:713.54px;top:1084.8px;width:32.91px"></div><div class="fr fl" style="left:700px;top:1062px;font-size:26px"><svg class="o" viewBox="0 -1409 1139 1409"><path d="M515 0V-1237L197-1010V-1180L530-1409H696V0Z" fill="currentColor" stroke="currentColor" stroke-width="63"/></svg>3</div><div class="fr fl" style="left:700px;top:1088px;font-size:26px"><svg class="o" viewBox="0 -1409 1139 1409"><path d="M515 0V-1237L197-1010V-1180L530-1409H696V0Z" fill="currentColor" stroke="currentColor" stroke-width="63"/></svg>6</div>
<div class="t r" style="left:923.7px;top:1070px">.8<svg class="o" viewBox="0 -1409 1139 1409"><path d="M515 0V-1237L197-1010V-1180L530-1409H696V0Z" fill="currentColor" stroke="currentColor" stroke-width="36"/></svg>25</div>
<div class="t r" style="left:1108.5px;top:1070px">20.6375</div>
<div class="ln" style="left:822px;top:1129.5px;width:89.7px"></div>
<div class="c cd" style="left:790.5px;top:1101.1px"></div><div class="bar fdb" style="left:804.71px;top:1130.4px;width:34.58px"></div><div class="fr fd" style="left:792px;top:1106px;font-size:27.5px">53</div><div class="fr fd" style="left:792px;top:1132px;font-size:27.5px">64</div>
<div class="t b" style="left:923.7px;top:1116px">.828<svg class="o" viewBox="0 -1409 1139 1409"><path d="M478 0V-1170L140-959V-1180L493-1409H759V0Z" fill="currentColor"/></svg>25</div>
<div class="t b" style="left:1108.5px;top:1116px">2<svg class="o" viewBox="0 -1409 1139 1409"><path d="M478 0V-1170L140-959V-1180L493-1409H759V0Z" fill="currentColor"/></svg>.0345</div>
<div class="ln" style="left:730px;top:1176.9px;width:181.7px"></div>
<div class="c cl" style="left:698.5px;top:1147.9px"></div><div class="bar flb" style="left:713.54px;top:1175.2px;width:32.91px"></div><div class="fr fl" style="left:700px;top:1152px;font-size:26px">27</div><div class="fr fl" style="left:700px;top:1178px;font-size:26px">32</div>
<div class="t r" style="left:923.7px;top:1162px">.84375</div>
<div class="t r" style="left:1108.5px;top:1162px">2<svg class="o" viewBox="0 -1409 1139 1409"><path d="M515 0V-1237L197-1010V-1180L530-1409H696V0Z" fill="currentColor" stroke="currentColor" stroke-width="36"/></svg>.43<svg class="o" viewBox="0 -1409 1139 1409"><path d="M515 0V-1237L197-1010V-1180L530-1409H696V0Z" fill="currentColor" stroke="currentColor" stroke-width="36"/></svg></div>
<div class="ln" style="left:822px;top:1222.6px;width:89.7px"></div>
<div class="c cd" style="left:790.5px;top:1194.2px"></div><div class="bar fdb" style="left:804.71px;top:1223.5px;width:34.58px"></div><div class="fr fd" style="left:792px;top:1199px;font-size:27.5px">55</div><div class="fr fd" style="left:792px;top:1225px;font-size:27.5px">64</div>
<div class="t b" style="left:923.7px;top:1207px">.859375</div>
<div class="t b" style="left:1108.5px;top:1207px">2<svg class="o" viewBox="0 -1409 1139 1409"><path d="M478 0V-1170L140-959V-1180L493-1409H759V0Z" fill="currentColor"/></svg>.8282</div>
<div class="ln" style="left:730px;top:1269.9px;width:181.7px"></div>
<div class="c cl" style="left:698.5px;top:1240.9px"></div><div class="bar flb" style="left:720.77px;top:1268.2px;width:18.46px"></div><div class="fr fl" style="left:700px;top:1245px;font-size:26px">7</div><div class="fr fl" style="left:700px;top:1271px;font-size:26px">8</div>
<div class="t r" style="left:923.7px;top:1253px">.875</div>
<div class="t r" style="left:1108.5px;top:1253px">22.225<svg class="o" viewBox="0 -1409 1139 1409"><path d="M515 0V-1237L197-1010V-1180L530-1409H696V0Z" fill="currentColor" stroke="currentColor" stroke-width="36"/></svg></div>
<div class="ln" style="left:822px;top:1313.3px;width:89.7px"></div>
<div class="c cd" style="left:790.5px;top:1284.9px"></div><div class="bar fdb" style="left:804.71px;top:1314.2px;width:34.58px"></div><div class="fr fd" style="left:792px;top:1290px;font-size:27.5px">57</div><div class="fr fd" style="left:792px;top:1315px;font-size:27.5px">64</div>
<div class="t b" style="left:923.7px;top:1299px">.890625</div>
<div class="t b" style="left:1108.5px;top:1299px">22.6220</div>
<div class="ln" style="left:730px;top:1360.2px;width:181.7px"></div>
<div class="c cl" style="left:698.5px;top:1331.2px"></div><div class="bar flb" style="left:713.54px;top:1358.5px;width:32.91px"></div><div class="fr fl" style="left:700px;top:1336px;font-size:26px">29</div><div class="fr fl" style="left:700px;top:1361px;font-size:26px">32</div>
<div class="t r" style="left:923.7px;top:1345px">.90625</div>
<div class="t r" style="left:1108.5px;top:1345px">23.0<svg class="o" viewBox="0 -1409 1139 1409"><path d="M515 0V-1237L197-1010V-1180L530-1409H696V0Z" fill="currentColor" stroke="currentColor" stroke-width="36"/></svg>88</div>
<div class="ln" style="left:822px;top:1404.1px;width:89.7px"></div>
<div class="c cd" style="left:790.5px;top:1375.7px"></div><div class="bar fdb" style="left:804.71px;top:1405px;width:34.58px"></div><div class="fr fd" style="left:792px;top:1381px;font-size:27.5px">59</div><div class="fr fd" style="left:792px;top:1406px;font-size:27.5px">64</div>
<div class="t b" style="left:923.7px;top:1390px">.92<svg class="o" viewBox="0 -1409 1139 1409"><path d="M478 0V-1170L140-959V-1180L493-1409H759V0Z" fill="currentColor"/></svg>875</div>
<div class="t b" style="left:1108.5px;top:1390px">23.4<svg class="o" viewBox="0 -1409 1139 1409"><path d="M478 0V-1170L140-959V-1180L493-1409H759V0Z" fill="currentColor"/></svg>57</div>
<div class="ln" style="left:730px;top:1451.1px;width:181.7px"></div>
<div class="c cl" style="left:698.5px;top:1422.1px"></div><div class="bar flb" style="left:713.54px;top:1449.4px;width:32.91px"></div><div class="fr fl" style="left:700px;top:1427px;font-size:26px"><svg class="o" viewBox="0 -1409 1139 1409"><path d="M515 0V-1237L197-1010V-1180L530-1409H696V0Z" fill="currentColor" stroke="currentColor" stroke-width="63"/></svg>5</div><div class="fr fl" style="left:700px;top:1452px;font-size:26px"><svg class="o" viewBox="0 -1409 1139 1409"><path d="M515 0V-1237L197-1010V-1180L530-1409H696V0Z" fill="currentColor" stroke="currentColor" stroke-width="63"/></svg>6</div>
<div class="t r" style="left:923.7px;top:1436px">.9375</div>
<div class="t r" style="left:1108.5px;top:1436px">23.8<svg class="o" viewBox="0 -1409 1139 1409"><path d="M515 0V-1237L197-1010V-1180L530-1409H696V0Z" fill="currentColor" stroke="currentColor" stroke-width="36"/></svg>26</div>
<div class="ln" style="left:822px;top:1494.5px;width:89.7px"></div>
<div class="c cd" style="left:790.5px;top:1466.1px"></div><div class="bar fdb" style="left:804.71px;top:1495.4px;width:34.58px"></div><div class="fr fd" style="left:792px;top:1471px;font-size:27.5px">6<svg class="o" viewBox="0 -1409 1139 1409"><path d="M515 0V-1237L197-1010V-1180L530-1409H696V0Z" fill="currentColor"/></svg></div><div class="fr fd" style="left:792px;top:1497px;font-size:27.5px">64</div>
<div class="t b" style="left:923.7px;top:1482px">.953<svg class="o" viewBox="0 -1409 1139 1409"><path d="M478 0V-1170L140-959V-1180L493-1409H759V0Z" fill="currentColor"/></svg>25</div>
<div class="t b" style="left:1108.5px;top:1482px">24.2095</div>
<div class="ln" style="left:730px;top:1541.4px;width:181.7px"></div>
<div class="c cl" style="left:698.5px;top:1512.4px"></div><div class="bar flb" style="left:713.54px;top:1539.7px;width:32.91px"></div><div class="fr fl" style="left:700px;top:1517px;font-size:26px">3<svg class="o" viewBox="0 -1409 1139 1409"><path d="M515 0V-1237L197-1010V-1180L530-1409H696V0Z" fill="currentColor" stroke="currentColor" stroke-width="63"/></svg></div><div class="fr fl" style="left:700px;top:1543px;font-size:26px">32</div>
<div class="t r" style="left:923.7px;top:1527px">.96875</div>
<div class="t r" style="left:1108.5px;top:1527px">24.6063</div>
<div class="ln" style="left:822px;top:1587.9px;width:89.7px"></div>
<div class="c cd" style="left:790.5px;top:1559.5px"></div><div class="bar fdb" style="left:804.71px;top:1588.8px;width:34.58px"></div><div class="fr fd" style="left:792px;top:1564px;font-size:27.5px">63</div><div class="fr fd" style="left:792px;top:1590px;font-size:27.5px">64</div>
<div class="t b" style="left:923.7px;top:1573px">.984375</div>
<div class="t b" style="left:1108.5px;top:1573px">25.0032</div>
<div class="ln" style="left:730px;top:1635.3px;width:181.7px"></div>
<div class="c cl" style="left:698.5px;top:1606.3px"></div><svg class="sv" width="1358" height="1716"><path d="M728,1616.7 L733.3,1616.7 L733.3,1652.1 L728,1652.1 L728,1625 Q724.5,1627 718.8,1627.2 L718.8,1623.2 Q725.8,1622.4 728,1616.7 Z" fill="#0c20b8"/></svg>
<div class="t r" style="left:923.7px;top:1619px"><svg class="o" viewBox="0 -1409 1139 1409"><path d="M515 0V-1237L197-1010V-1180L530-1409H696V0Z" fill="currentColor" stroke="currentColor" stroke-width="36"/></svg>.000</div>
<div class="t r" style="left:1108.5px;top:1619px">25.4000</div>
</div>
</body></html>
